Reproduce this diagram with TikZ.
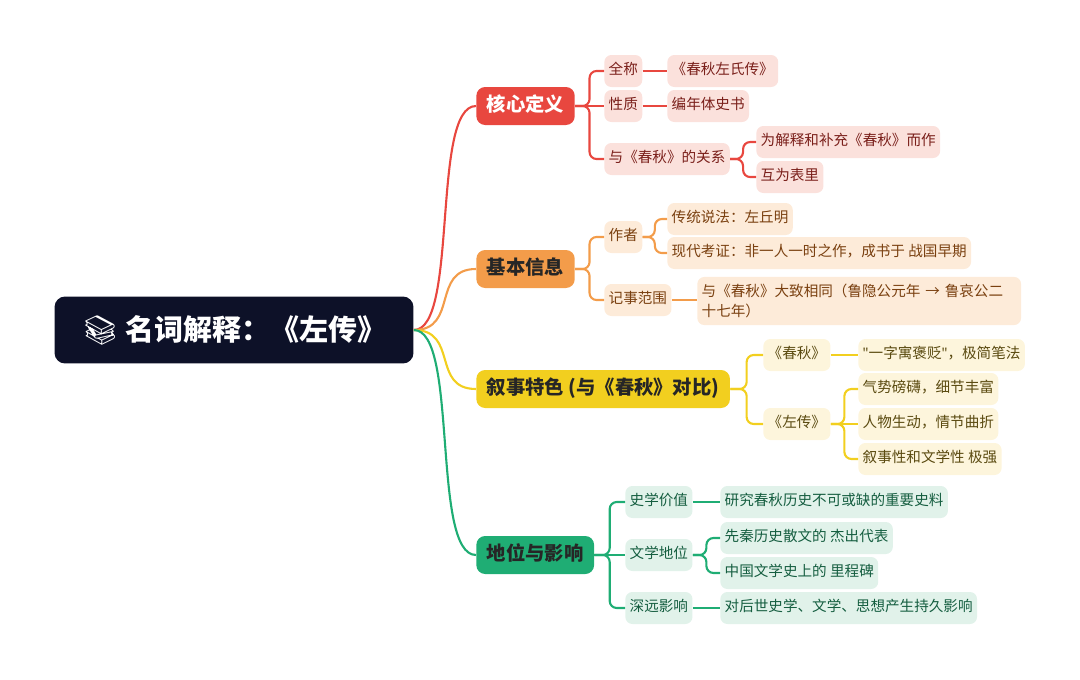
\documentclass[tikz,border=0pt]{standalone}
\usepackage{fontspec}
\setmainfont{Noto Sans CJK SC}
\newfontfamily\emojifont{Noto Emoji}
\newfontfamily\latinfont{Noto Sans}
\usetikzlibrary{calc, positioning}

\definecolor{rootbg}{HTML}{0D1128}
\definecolor{redA}{HTML}{E8473F}\definecolor{redB}{HTML}{FBE1DC}\definecolor{redT}{HTML}{7A1F1A}
\definecolor{oraA}{HTML}{F39C4A}\definecolor{oraB}{HTML}{FDEBD9}\definecolor{oraT}{HTML}{7A4010}
\definecolor{yelA}{HTML}{F2CF1F}\definecolor{yelB}{HTML}{FDF5DC}\definecolor{yelT}{HTML}{5A4A10}
\definecolor{grnA}{HTML}{1FAD74}\definecolor{grnB}{HTML}{E1F2EA}\definecolor{grnT}{HTML}{155E40}

\tikzset{
  topic/.style={anchor=west, rounded corners=5pt, inner xsep=6pt, inner ysep=0pt, text height=8.5pt, text depth=2.5pt,
    minimum height=0.76cm, font=\bfseries\fontsize{11}{13}\selectfont},
  leaf/.style={anchor=west, rounded corners=4pt, inner xsep=2.5pt, inner ysep=0pt, text height=6.5pt, text depth=2pt,
    minimum height=0.64cm, font=\fontsize{8.3}{11.5}\selectfont},
  link/.style={line width=1.2pt, rounded corners=4pt},
}
\newcommand\branch[3]{\draw[link, #1] (#2.east) -- ($(#2.east)!.5!(#2.east -| #3.west)$) |- (#3.west);}
\newcommand\pipe[3]{\draw[link, #1] (#2.east) -- (#3.west);}

\begin{document}
\begin{tikzpicture}[x=0.02cm, y=-0.02cm]
  \useasboundingbox (0,0) rectangle (1080,680);

  % root
  \node[rounded corners=6pt, fill=rootbg, text=white, minimum width=7.18cm, minimum height=1.34cm,
        font=\bfseries\fontsize{16.5}{18}\selectfont] (root) at (234,330) {{\emojifont 📚}\ 名词解释：《左传》};

  % main topics
  \node[topic, fill=redA, text=white] (core) at (476,106) {核心定义};
  \node[topic, fill=oraA, text=black!85] (info) at (476,269) {基本信息};
  \node[topic, fill=yelA, text=black!85] (style) at (476,389) {叙事特色 (与《春秋》对比)};
  \node[topic, fill=grnA, text=black!85] (rank) at (476,555) {地位与影响};

  \foreach \t/\c in {core/redA, info/oraA, style/yelA, rank/grnA}
    \draw[line width=1.2pt, \c] (root.east) .. controls +(45,0) and +(-45,0) .. (\t.west);

  % core definition
  \begin{scope}[every node/.style={leaf, fill=redB, text=redT}]
    \node (fullname) at (604,71) {全称};
    \node (nature) at (604,106) {性质};
    \node (relation) at (604,159) {与《春秋》的关系};
    \node (fullnameV) at (667,71) {《春秋左氏传》};
    \node (natureV) at (667,106) {编年体史书};
    \node (relA) at (756,142) {为解释和补充《春秋》而作};
    \node (relB) at (756,177) {互为表里};
  \end{scope}
  \foreach \a/\b in {core/fullname, core/relation, relation/relA, relation/relB}
    {\branch{redA}{\a}{\b}}
  \foreach \a/\b in {core/nature, fullname/fullnameV, nature/natureV}
    {\pipe{redA}{\a}{\b}}

  % basic info
  \begin{scope}[every node/.style={leaf, fill=oraB, text=oraT}]
    \node (author) at (604,237) {作者};
    \node (range) at (604,300) {记事范围};
    \node (authA) at (667,219) {传统说法：左丘明};
    \node (authB) at (667,253) {现代考证：非一人一时之作，成书于 战国早期};
    \node[text height=, text depth=, inner ysep=4pt, text width=6.3cm, align=left] (rangeV) at (697,301)
      {与《春秋》大致相同（鲁隐公元年 → 鲁哀公二\\十七年）};
  \end{scope}
  \foreach \a/\b in {info/author, info/range, author/authA, author/authB}
    {\branch{oraA}{\a}{\b}}
  \draw[link, oraA] (range.east) -- (range.east -| rangeV.west);

  % narrative style
  \begin{scope}[every node/.style={leaf, fill=yelB, text=yelT}]
    \node (cq) at (763,355) {《春秋》};
    \node (zz) at (763,424) {《左传》};
    \node (cqA) at (858,355) {{\latinfont"}一字寓褒贬{\latinfont"}，极简笔法};
    \node (zzA) at (858,389) {气势磅礴，细节丰富};
    \node (zzB) at (858,424) {人物生动，情节曲折};
    \node (zzC) at (858,459) {叙事性和文学性 极强};
  \end{scope}
  \foreach \a/\b in {style/cq, style/zz, zz/zzA, zz/zzC}
    {\branch{yelA}{\a}{\b}}
  \foreach \a/\b in {cq/cqA, zz/zzB}
    {\pipe{yelA}{\a}{\b}}

  % status and influence
  \begin{scope}[every node/.style={leaf, fill=grnB, text=grnT}]
    \node (hist) at (625,502) {史学价值};
    \node (lit) at (625,555) {文学地位};
    \node (infl) at (625,608) {深远影响};
    \node (histV) at (720,502) {研究春秋历史不可或缺的重要史料};
    \node (litA) at (720,538) {先秦历史散文的 杰出代表};
    \node (litB) at (720,573) {中国文学史上的 里程碑};
    \node (inflV) at (720,608) {对后世史学、文学、思想产生持久影响};
  \end{scope}
  \foreach \a/\b in {rank/hist, rank/infl, lit/litA, lit/litB}
    {\branch{grnA}{\a}{\b}}
  \foreach \a/\b in {rank/lit, hist/histV, infl/inflV}
    {\pipe{grnA}{\a}{\b}}
\end{tikzpicture}
\end{document}
